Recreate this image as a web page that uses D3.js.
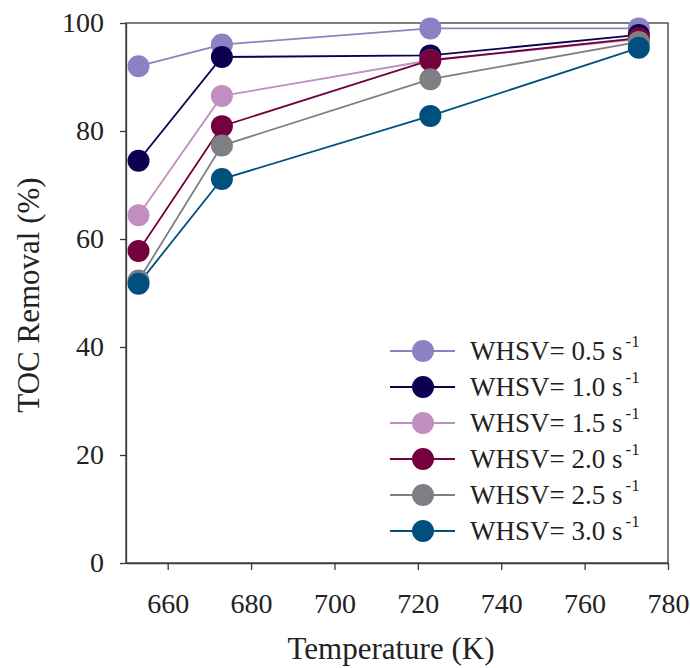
<!DOCTYPE html>
<html><head><meta charset="utf-8">
<script src="https://cdn.jsdelivr.net/npm/d3@7"></script>
<style>body{margin:0;background:#fff}svg text{font-family:"Liberation Serif","Times New Roman",Times,serif}</style>
</head><body><svg id="c" width="690" height="668"></svg>
<script>
const temperatures = [653, 673, 723, 773];
const seriesNames = ["0.5", "1.0", "1.5", "2.0", "2.5", "3.0"];
const seriesColors = ["#8a82c2", "#0c0050", "#c08ec0", "#74003e", "#7e7f84", "#00507f"];
const whsv05 = [92.0, 96.0, 99.0, 99.0];
const whsv10 = [74.5, 93.7, 94.0, 97.8];
const whsv15 = [64.4, 86.5, 93.1, 97.0];
const whsv20 = [57.8, 80.9, 93.1, 97.2];
const whsv25 = [52.3, 77.3, 89.6, 96.5];
const whsv30 = [51.7, 71.1, 82.8, 95.4];
const xTicks = [660, 680, 700, 720, 740, 760, 780];
const yTicks = [0, 20, 40, 60, 80, 100];
const seriesValues = [whsv05, whsv10, whsv15, whsv20, whsv25, whsv30];

const svg = d3.select("#c");
const x = d3.scaleLinear().domain([650, 780]).range([126, 668]);
const y = d3.scaleLinear().domain([0, 100]).range([563, 23]);
const axisColor = "#3a3a3a";
const textColor = "#222";
const serif = '"Liberation Serif","Times New Roman",Times,serif';

// frame
svg.append("rect").attr("x", 126).attr("y", 23).attr("width", 668 - 126).attr("height", 563 - 23)
  .attr("fill", "none").attr("stroke", axisColor).attr("stroke-width", 1.3);

const xAxis = svg.append("g").attr("transform", "translate(0,563)")
  .call(d3.axisBottom(x).tickValues(xTicks).tickSize(7).tickPadding(23).tickSizeOuter(0));
const yAxis = svg.append("g").attr("transform", "translate(126,0)")
  .call(d3.axisLeft(y).tickValues(yTicks).tickSize(6).tickPadding(16).tickSizeOuter(0));
[xAxis, yAxis].forEach(a => {
  a.attr("font-family", serif);
  a.select(".domain").attr("stroke", axisColor).attr("stroke-width", 1.3);
  a.selectAll(".tick line").attr("stroke", axisColor).attr("stroke-width", 1.3);
  a.selectAll(".tick text").attr("fill", textColor).style("font-size", "28px");
});

const line = d3.line().x((d, i) => x(temperatures[i])).y(d => y(d));
seriesValues.forEach((vals, s) => {
  svg.append("path").datum(vals).attr("d", line).attr("fill", "none")
    .attr("stroke", seriesColors[s]).attr("stroke-width", 1.8);
});
seriesValues.forEach((vals, s) => {
  svg.append("g").selectAll("circle").data(vals).join("circle")
    .attr("cx", (d, i) => x(temperatures[i])).attr("cy", d => y(d)).attr("r", 11)
    .attr("fill", seriesColors[s]);
});

// legend
const leg = svg.append("g");
seriesNames.forEach((n, i) => {
  const ly = 351 + i * 36;
  leg.append("line").attr("x1", 390).attr("x2", 455).attr("y1", ly).attr("y2", ly)
    .attr("stroke", seriesColors[i]).attr("stroke-width", 1.8);
  leg.append("circle").attr("cx", 423).attr("cy", ly).attr("r", 11).attr("fill", seriesColors[i]);
  const t = leg.append("text").attr("x", 470).attr("y", ly + 9).attr("fill", textColor).style("font-size", "27px");
  t.append("tspan").text("WHSV= " + n + " s");
  t.append("tspan").attr("dy", -13).attr("dx", 3).style("font-size", "17px").text("-1");
});

svg.append("text").attr("x", 391).attr("y", 659).attr("text-anchor", "middle")
  .attr("fill", textColor).style("font-size", "31px").text("Temperature (K)");
svg.append("text").attr("transform", "translate(39,295) rotate(-90)").attr("text-anchor", "middle")
  .attr("fill", textColor).style("font-size", "31px").text("TOC Removal (%)");
</script></body></html>
